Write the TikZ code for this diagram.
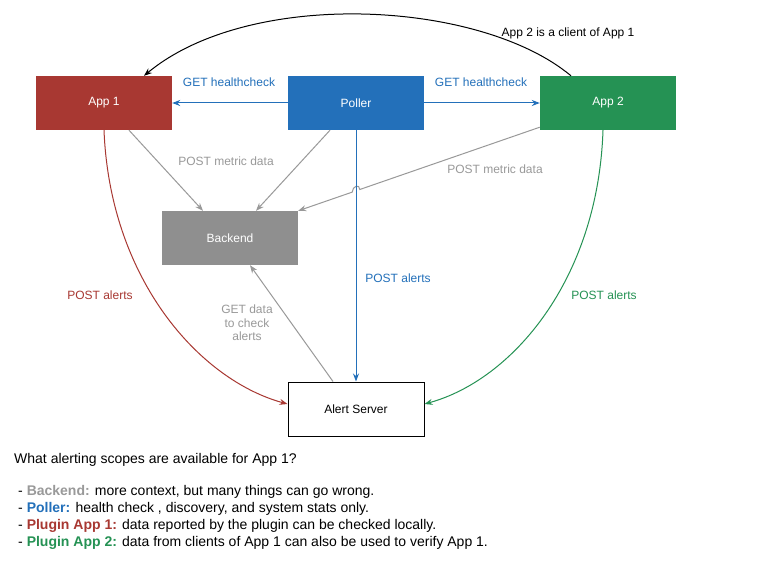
\documentclass[tikz,border=0pt]{standalone}
\usepackage{fontspec}
\setmainfont{Liberation Sans}
\usetikzlibrary{arrows.meta,calc}
\definecolor{appred}{HTML}{A83832}
\definecolor{pollblue}{HTML}{2370BA}
\definecolor{appgreen}{HTML}{259254}
\definecolor{backgray}{HTML}{8F8F8F}
\definecolor{linegray}{HTML}{999999}
\tikzset{
	appbox/.style={rectangle, minimum width=136pt, minimum height=54pt, inner sep=0pt, text=white, font=\fontsize{12}{14}\selectfont},
	flow/.style={line width=1pt, -{Stealth[length=8pt,width=6pt]}},
	lbl/.style={inner sep=0pt, font=\fontsize{12}{14}\selectfont},
}

\begin{document}
\begin{tikzpicture}[x=1pt,y=-1pt]
			%%%%% START %%%%%
			\useasboundingbox[fill=white] (0,0) rectangle (784,564);
			
			\node[appbox, fill=appred] (app1) at (104,103) {App 1};
			\node[appbox, fill=pollblue] (poller) at (356,103) {Poller};
			\node[appbox, fill=appgreen] (app2) at (608,103) {App 2};
			\node[appbox, fill=backgray] (backend) at (230,238) {Backend};
			\node[appbox, fill=white, draw=black, line width=1pt, text=black] (alert) at (356,409) {Alert Server};
			
			\draw[flow, color=pollblue] (poller) -- (app1);
			\draw[flow, color=pollblue] (poller) -- (app2);
			\node[lbl, color=pollblue] (gethc1) at (229,82) {GET healthcheck};
			\node[lbl, color=pollblue] (gethc2) at (481,82) {GET healthcheck};
			
			\draw[flow, color=linegray] ([xshift=25pt]app1.south) -- ([xshift=-27pt]backend.north);
			\draw[flow, color=linegray] ([xshift=-26pt]poller.south) -- ([xshift=26pt]backend.north);
			\node[lbl, color=linegray] (metric1) at (226,161) {POST metric data};
			
			\coordinate (a2s) at ([yshift=3pt]app2.south west);
			\coordinate (jmp) at (intersection of a2s--backend.north east and poller.south--alert.north);
			\draw[flow, color=linegray] (a2s) -- ($(jmp)!4pt!(a2s)$) .. controls +(0,-6) and +(0,-6) .. ($(jmp)!4pt!(backend.north east)$) -- (backend.north east);
			\node[lbl, color=linegray] (metric2) at (495,169) {POST metric data};
			
			\draw[flow, color=pollblue] (poller) -- (alert);
			\node[lbl, color=pollblue] (alertsp) at (398,278) {POST alerts};
			
			\draw[flow, color=linegray] ([xshift=-23pt]alert.north) -- ([xshift=20pt]backend.south);
			\node[lbl, color=linegray, align=center, font=\fontsize{12}{13.5}\selectfont] (getdata) at (247,323) {GET data\\to check\\alerts};
			
			\draw[flow, color=appred] (app1.south) .. controls (110,280) and (200,380) .. ([yshift=5pt]alert.west);
			\node[lbl, color=appred] (alertsr) at (100,295) {POST alerts};
			
			\draw[flow, color=appgreen] ([xshift=-5pt]app2.south) .. controls (598,280) and (512,380) .. ([yshift=5pt]alert.east);
			\node[lbl, color=appgreen] (alertsg) at (604,295) {POST alerts};
			
			\draw[flow, color=black] ([xshift=-37pt]app2.north) .. controls (480,0) and (250,-12) .. ([xshift=40pt]app1.north);
			\node[lbl, color=black] (client) at (568,33) {App 2 is a client of App 1};
			
			\node[lbl, anchor=north west, align=left, font=\fontsize{14}{17}\selectfont] (scopes) at (14,453) {What alerting scopes are available for App 1?\\[15pt]
				\hspace{4pt}- \textbf{\color{linegray}Backend:} more context, but many things can go wrong.\\
				\hspace{4pt}- \textbf{\color{pollblue}Poller:} health check , discovery, and system stats only.\\
				\hspace{4pt}- \textbf{\color{appred}Plugin App 1:} data reported by the plugin can be checked locally.\\
				\hspace{4pt}- \textbf{\color{appgreen}Plugin App 2:} data from clients of App 1 can also be used to verify App 1.};
			
			%%%%% END %%%%%
\end{tikzpicture}
\end{document}
